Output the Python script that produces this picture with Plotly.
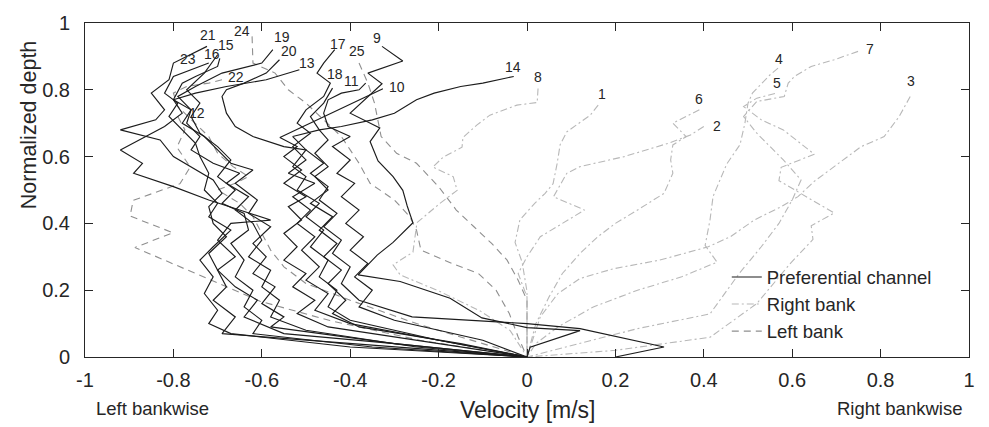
import plotly.graph_objects as go

# ---------------- data: (velocity [m/s], normalized depth), top of profile first ----------------
# Right bank profiles (dash-dot)
P1 = [(0.161, 0.754), (0.143, 0.724), (0.090, 0.674), (0.075, 0.636), (0.068, 0.578), (0.059, 0.519),
      (0.041, 0.490), (0.018, 0.461), (-0.016, 0.411), (-0.027, 0.343), (-0.011, 0.284), (0.0, 0.196),
      (0.0, 0.079), (0.0, 0.0)]
P2 = [(0.40, 0.69), (0.37, 0.665), (0.32, 0.64), (0.22, 0.60), (0.12, 0.57), (0.09, 0.55), (0.06, 0.48),
      (0.13, 0.44), (0.08, 0.40), (0.03, 0.36), (0.0, 0.30), (-0.02, 0.25), (0.0, 0.18), (0.0, 0.10), (0.0, 0.0)]
P3 = [(0.867, 0.78), (0.842, 0.72), (0.808, 0.66), (0.756, 0.63), (0.695, 0.57), (0.649, 0.525), (0.613, 0.48),
      (0.575, 0.45), (0.514, 0.41), (0.46, 0.36), (0.41, 0.33), (0.30, 0.29), (0.195, 0.264), (0.12, 0.235),
      (0.07, 0.19), (0.03, 0.12), (0.0, 0.0)]
P4 = [(0.568, 0.865), (0.55, 0.845), (0.51, 0.79), (0.50, 0.76), (0.493, 0.70), (0.482, 0.636), (0.452, 0.578),
      (0.421, 0.481), (0.414, 0.41), (0.403, 0.334), (0.43, 0.284), (0.35, 0.24), (0.25, 0.20), (0.15, 0.15),
      (0.07, 0.09), (0.02, 0.04), (0.0, 0.0)]
P5 = [(0.561, 0.789), (0.52, 0.775), (0.49, 0.75), (0.53, 0.71), (0.58, 0.68), (0.65, 0.607), (0.575, 0.568),
      (0.57, 0.528), (0.695, 0.431), (0.643, 0.393), (0.647, 0.352), (0.595, 0.279), (0.52, 0.16),
      (0.414, 0.059), (0.2, 0.02), (0.0, 0.0)]
P6 = [(0.39, 0.74), (0.33, 0.70), (0.345, 0.68), (0.36, 0.66), (0.33, 0.635), (0.325, 0.59), (0.33, 0.55),
      (0.31, 0.49), (0.25, 0.44), (0.20, 0.40), (0.16, 0.36), (0.12, 0.31), (0.08, 0.25), (0.05, 0.18),
      (0.02, 0.10), (0.0, 0.0)]
P7 = [(0.749, 0.915), (0.695, 0.89), (0.643, 0.87), (0.605, 0.84), (0.591, 0.82), (0.582, 0.78), (0.52, 0.765),
      (0.49, 0.72), (0.52, 0.67), (0.55, 0.63), (0.58, 0.59), (0.62, 0.53), (0.60, 0.47), (0.57, 0.40),
      (0.53, 0.33), (0.48, 0.25), (0.414, 0.129), (0.25, 0.085), (0.12, 0.041), (0.0, 0.0)]
P8 = [(0.025, 0.804), (0.023, 0.762), (-0.023, 0.754), (-0.084, 0.724), (-0.113, 0.695), (-0.145, 0.657),
      (-0.147, 0.628), (-0.19, 0.598), (-0.213, 0.569), (-0.167, 0.540), (-0.158, 0.499), (-0.197, 0.460),
      (-0.249, 0.402), (-0.258, 0.314), (-0.303, 0.276), (-0.287, 0.246), (-0.197, 0.196), (-0.106, 0.138),
      (-0.038, 0.079), (0.0, 0.0)]

# Preferential channel profiles (solid)
P9 = [(-0.328, 0.930), (-0.281, 0.886), (-0.360, 0.850), (-0.328, 0.818), (-0.400, 0.730), (-0.333, 0.686),
      (-0.355, 0.645), (-0.337, 0.587), (-0.303, 0.540), (-0.281, 0.499), (-0.271, 0.452), (-0.258, 0.402),
      (-0.303, 0.343), (-0.339, 0.305), (-0.382, 0.246), (-0.287, 0.226), (-0.174, 0.176), (-0.102, 0.117),
      (0.0, 0.088), (0.120, 0.079), (0.007, 0.029), (0.0, 0.0)]
P10 = [(-0.326, 0.803), (-0.559, 0.657), (-0.52, 0.63), (-0.55, 0.60), (-0.51, 0.56), (-0.55, 0.52),
       (-0.50, 0.48), (-0.54, 0.45), (-0.51, 0.41), (-0.55, 0.37), (-0.52, 0.33), (-0.55, 0.29), (-0.50, 0.25),
       (-0.53, 0.21), (-0.48, 0.17), (-0.52, 0.13), (-0.45, 0.09), (-0.20, 0.04), (0.0, 0.0)]
P11 = [(-0.365, 0.82), (-0.38, 0.80), (-0.42, 0.79), (-0.45, 0.77), (-0.46, 0.73), (-0.45, 0.69), (-0.40, 0.66),
       (-0.44, 0.63), (-0.40, 0.59), (-0.43, 0.55), (-0.39, 0.52), (-0.42, 0.48), (-0.38, 0.44), (-0.41, 0.40),
       (-0.37, 0.36), (-0.40, 0.32), (-0.36, 0.28), (-0.39, 0.24), (-0.35, 0.20), (-0.38, 0.15), (-0.30, 0.11),
       (-0.10, 0.05), (0.0, 0.0)]
P13 = [(-0.515, 0.86), (-0.59, 0.83), (-0.68, 0.81), (-0.75, 0.79), (-0.80, 0.77), (-0.76, 0.74), (-0.78, 0.70),
       (-0.73, 0.66), (-0.70, 0.62), (-0.67, 0.58), (-0.62, 0.56), (-0.66, 0.52), (-0.61, 0.47), (-0.63, 0.43),
       (-0.58, 0.39), (-0.62, 0.34), (-0.59, 0.30), (-0.62, 0.25), (-0.57, 0.21), (-0.60, 0.16), (-0.55, 0.12),
       (-0.58, 0.09), (-0.30, 0.04), (0.0, 0.0)]
P14 = [(-0.03, 0.84), (-0.10, 0.82), (-0.15, 0.81), (-0.21, 0.79), (-0.25, 0.77), (-0.30, 0.73), (-0.35, 0.71),
       (-0.42, 0.69), (-0.47, 0.68), (-0.53, 0.66), (-0.50, 0.62), (-0.46, 0.58), (-0.49, 0.55), (-0.45, 0.51),
       (-0.47, 0.47), (-0.43, 0.43), (-0.46, 0.39), (-0.42, 0.35), (-0.44, 0.31), (-0.40, 0.27), (-0.42, 0.22),
       (-0.38, 0.17), (-0.26, 0.12), (0.0, 0.10), (0.12, 0.085), (0.31, 0.03), (0.2, 0.0)]
P15 = [(-0.70, 0.905), (-0.73, 0.85), (-0.77, 0.80), (-0.74, 0.76), (-0.76, 0.72), (-0.74, 0.67), (-0.70, 0.63),
       (-0.67, 0.59), (-0.70, 0.54), (-0.66, 0.50), (-0.69, 0.46), (-0.64, 0.43), (-0.63, 0.38), (-0.67, 0.34),
       (-0.64, 0.29), (-0.66, 0.24), (-0.62, 0.20), (-0.64, 0.15), (-0.60, 0.11), (-0.62, 0.07), (-0.35, 0.03),
       (0.0, 0.0)]
P16 = [(-0.695, 0.894), (-0.70, 0.87), (-0.75, 0.84), (-0.78, 0.82), (-0.80, 0.77), (-0.78, 0.73), (-0.82, 0.69),
       (-0.92, 0.62), (-0.87, 0.58), (-0.89, 0.55), (-0.80, 0.51), (-0.72, 0.47), (-0.65, 0.44), (-0.58, 0.41),
       (-0.67, 0.40), (-0.70, 0.35), (-0.66, 0.30), (-0.70, 0.26), (-0.66, 0.21), (-0.61, 0.17), (-0.64, 0.12),
       (-0.55, 0.07), (-0.30, 0.04), (0.0, 0.0)]
P17 = [(-0.435, 0.92), (-0.46, 0.88), (-0.475, 0.85), (-0.445, 0.82), (-0.46, 0.78), (-0.50, 0.74), (-0.52, 0.70),
       (-0.49, 0.67), (-0.53, 0.63), (-0.50, 0.59), (-0.54, 0.55), (-0.48, 0.52), (-0.53, 0.48), (-0.49, 0.44),
       (-0.52, 0.40), (-0.48, 0.36), (-0.51, 0.32), (-0.47, 0.27), (-0.50, 0.23), (-0.45, 0.19), (-0.48, 0.14),
       (-0.40, 0.10), (-0.20, 0.05), (0.0, 0.0)]
P18 = [(-0.44, 0.805), (-0.46, 0.76), (-0.49, 0.72), (-0.47, 0.68), (-0.45, 0.65), (-0.48, 0.61), (-0.45, 0.57),
       (-0.48, 0.54), (-0.45, 0.50), (-0.49, 0.46), (-0.44, 0.42), (-0.47, 0.38), (-0.43, 0.34), (-0.46, 0.30),
       (-0.42, 0.26), (-0.45, 0.22), (-0.41, 0.17), (-0.44, 0.13), (-0.38, 0.09), (-0.15, 0.04), (0.0, 0.0)]
P19 = [(-0.575, 0.92), (-0.60, 0.88), (-0.69, 0.85), (-0.75, 0.81), (-0.79, 0.78), (-0.76, 0.74), (-0.77, 0.70),
       (-0.74, 0.66), (-0.76, 0.62), (-0.71, 0.58), (-0.65, 0.55), (-0.68, 0.52), (-0.63, 0.48), (-0.66, 0.44),
       (-0.62, 0.40), (-0.60, 0.35), (-0.63, 0.30), (-0.58, 0.26), (-0.60, 0.21), (-0.56, 0.17), (-0.58, 0.12),
       (-0.50, 0.08), (-0.25, 0.03), (0.0, 0.0)]
P20 = [(-0.56, 0.89), (-0.59, 0.85), (-0.64, 0.82), (-0.68, 0.80), (-0.69, 0.78), (-0.68, 0.73), (-0.66, 0.69),
       (-0.62, 0.66), (-0.55, 0.63), (-0.50, 0.62), (-0.53, 0.57), (-0.50, 0.54), (-0.52, 0.50), (-0.47, 0.46),
       (-0.50, 0.42), (-0.46, 0.38), (-0.49, 0.33), (-0.45, 0.29), (-0.47, 0.24), (-0.43, 0.20), (-0.45, 0.15),
       (-0.40, 0.11), (-0.20, 0.05), (0.0, 0.0)]
P21 = [(-0.724, 0.93), (-0.80, 0.88), (-0.81, 0.83), (-0.85, 0.79), (-0.82, 0.74), (-0.84, 0.71), (-0.92, 0.68),
       (-0.83, 0.65), (-0.80, 0.60), (-0.76, 0.57), (-0.71, 0.53), (-0.69, 0.49), (-0.72, 0.45), (-0.71, 0.40),
       (-0.68, 0.36), (-0.72, 0.31), (-0.70, 0.26), (-0.68, 0.21), (-0.71, 0.17), (-0.66, 0.12), (-0.69, 0.07),
       (-0.45, 0.045), (-0.2, 0.02), (0.0, 0.0)]
P23 = [(-0.72, 0.88), (-0.80, 0.84), (-0.82, 0.79), (-0.79, 0.76), (-0.81, 0.72), (-0.78, 0.68), (-0.75, 0.64),
       (-0.74, 0.60), (-0.72, 0.55), (-0.73, 0.50), (-0.70, 0.46), (-0.72, 0.42), (-0.67, 0.38), (-0.71, 0.33),
       (-0.74, 0.29), (-0.71, 0.24), (-0.73, 0.19), (-0.70, 0.14), (-0.72, 0.10), (-0.67, 0.07), (-0.4, 0.03),
       (0.0, 0.0)]

# Left bank profiles (dashed)
P12 = [(-0.79, 0.72), (-0.774, 0.68), (-0.792, 0.628), (-0.762, 0.569), (-0.785, 0.519), (-0.891, 0.469),
       (-0.898, 0.422), (-0.801, 0.372), (-0.887, 0.328), (-0.71, 0.226), (-0.604, 0.167), (-0.446, 0.109),
       (-0.242, 0.05), (0.0, 0.0)]
P22 = [(-0.69, 0.83), (-0.72, 0.82), (-0.77, 0.81), (-0.80, 0.79), (-0.79, 0.75), (-0.75, 0.70), (-0.72, 0.66),
       (-0.70, 0.61), (-0.665, 0.57), (-0.63, 0.54), (-0.66, 0.52), (-0.70, 0.50), (-0.65, 0.46), (-0.62, 0.42),
       (-0.60, 0.37), (-0.58, 0.32), (-0.55, 0.27), (-0.50, 0.22), (-0.40, 0.17), (-0.25, 0.10), (-0.10, 0.04),
       (0.0, 0.0)]
P24 = [(-0.622, 0.96), (-0.62, 0.88), (-0.57, 0.85), (-0.54, 0.80), (-0.50, 0.76), (-0.46, 0.71), (-0.42, 0.66),
       (-0.40, 0.62), (-0.38, 0.58), (-0.355, 0.52), (-0.30, 0.47), (-0.265, 0.42), (-0.25, 0.38), (-0.24, 0.32),
       (-0.17, 0.28), (-0.11, 0.25), (-0.07, 0.20), (-0.04, 0.13), (-0.02, 0.06), (0.0, 0.0)]
P25 = [(-0.38, 0.88), (-0.36, 0.82), (-0.345, 0.76), (-0.33, 0.66), (-0.295, 0.61), (-0.25, 0.58), (-0.20, 0.51),
       (-0.16, 0.44), (-0.12, 0.39), (-0.08, 0.34), (-0.045, 0.29), (-0.02, 0.23), (0.0, 0.17), (0.0, 0.08),
       (0.0, 0.0)]

RIGHT_BANK = {1: P1, 2: P2, 3: P3, 4: P4, 5: P5, 6: P6, 7: P7, 8: P8}
PREFERENTIAL = {9: P9, 10: P10, 11: P11, 13: P13, 14: P14, 15: P15, 16: P16, 17: P17, 18: P18,
                19: P19, 20: P20, 21: P21, 23: P23}
LEFT_BANK = {12: P12, 22: P22, 24: P24, 25: P25}

X_TICKS = [-1, -0.8, -0.6, -0.4, -0.2, 0, 0.2, 0.4, 0.6, 0.8, 1]
Y_TICKS = [0, 0.2, 0.4, 0.6, 0.8, 1]

# label offsets in pixels (xshift, yshift) relative to the top point of each profile
LABEL_SHIFT = {1: (4, 11), 2: (13, 1), 3: (1, 15), 4: (1, 9), 5: (2, 10), 6: (0, 11), 7: (12, 2), 8: (0, 11),
               9: (-5, 8), 10: (14, 2), 11: (-14, 2), 12: (19, 4), 13: (8, 7), 14: (-1, 9), 15: (8, 10),
               16: (-8, 4), 17: (3, 6), 18: (2, 14), 19: (9, 13), 20: (10, 9), 21: (1, 11), 22: (14, 3),
               23: (-21, 4), 24: (-10, 5), 25: (-2, 12)}

FONT = "Liberation Sans, Arial, sans-serif"
TXT = "#262626"

fig = go.Figure()

def add_group(profiles, name, color, dash, width, order):
    first = True
    for pid, pts in profiles.items():
        fig.add_trace(go.Scatter(
            x=[p[0] for p in pts], y=[p[1] for p in pts], mode="lines",
            line=dict(color=color, dash=dash, width=width),
            name=name, legendgroup=name, showlegend=first, legendrank=order,
            hoverinfo="skip"))
        first = False

add_group(LEFT_BANK, "Left bank", "#8f8f8f", "7px,5px", 1.1, 3)
add_group(RIGHT_BANK, "Right bank", "#b8b8b8", "7px,3px,2px,3px", 1.1, 2)
add_group(PREFERENTIAL, "Preferential channel", "#1c1c1c", "solid", 1.15, 1)

for group in (RIGHT_BANK, PREFERENTIAL, LEFT_BANK):
    for pid, pts in group.items():
        sx, sy = LABEL_SHIFT[pid]
        fig.add_annotation(x=pts[0][0], y=pts[0][1], text=str(pid), showarrow=False,
                           xshift=sx, yshift=sy, font=dict(size=14, color=TXT, family=FONT))

# axis titles & side notes (placed in paper coordinates)
fig.add_annotation(x=0.5, y=-0.158, xref="paper", yref="paper", xanchor="center", yanchor="middle",
                   text="Velocity [m/s]", showarrow=False, font=dict(size=23, color=TXT, family=FONT))
fig.add_annotation(x=0.076, y=-0.155, xref="paper", yref="paper", xanchor="center", yanchor="middle",
                   text="Left bankwise", showarrow=False, font=dict(size=18.5, color=TXT, family=FONT))
fig.add_annotation(x=0.921, y=-0.155, xref="paper", yref="paper", xanchor="center", yanchor="middle",
                   text="Right bankwise", showarrow=False, font=dict(size=18.5, color=TXT, family=FONT))
fig.add_annotation(x=-0.063, y=0.695, xref="paper", yref="paper", xanchor="center", yanchor="middle",
                   text="Normalized depth", showarrow=False, textangle=-90,
                   font=dict(size=21.5, color=TXT, family=FONT))

axis_common = dict(showline=True, linecolor="#262626", linewidth=1, mirror="ticks", ticks="inside",
                   ticklen=8, tickcolor="#262626", showgrid=False, zeroline=False,
                   tickfont=dict(size=20, color=TXT, family=FONT))
fig.update_xaxes(range=[-1, 1], tickvals=X_TICKS, ticktext=[f"{v:g}" for v in X_TICKS],
                 ticklabelstandoff=5, **axis_common)
fig.update_yaxes(range=[0, 1], tickvals=Y_TICKS, ticktext=[f"{v:g}" for v in Y_TICKS],
                 ticklabelstandoff=10, **axis_common)

fig.update_layout(
    width=989, height=427, margin=dict(l=85, r=20, t=16, b=70),
    paper_bgcolor="white", plot_bgcolor="white",
    font=dict(family=FONT, color=TXT),
    legend=dict(x=0.726, y=0.295, xanchor="left", yanchor="top", bgcolor="rgba(0,0,0,0)",
                font=dict(size=18.5, color=TXT, family=FONT), tracegroupgap=0, traceorder="normal"),
)

fig.write_html("out.html")
